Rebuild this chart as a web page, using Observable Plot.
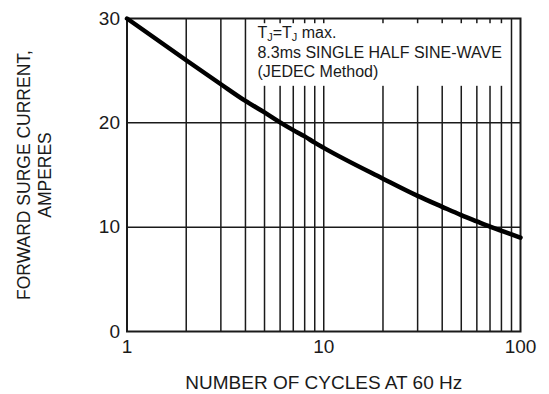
<!DOCTYPE html>
<html>
<head>
<meta charset="utf-8">
<script src="https://cdn.jsdelivr.net/npm/d3@7"></script>
<script src="https://cdn.jsdelivr.net/npm/@observablehq/plot@0.6"></script>
<style>
  html, body { margin: 0; padding: 0; background: #fff; }
  #chart svg { display: block; }
</style>
</head>
<body>
<div id="chart"></div>
<script>
// Data
const cycles  = [1, 2, 3, 4, 5, 6, 7, 8, 9, 10, 20, 30, 40, 50, 60, 70, 80, 90, 100];
const current = [30, 26.0, 23.7, 22.1, 21.0, 20.05, 19.3, 18.7, 18.1, 17.6, 14.65, 13.0, 11.95, 11.15, 10.55, 10.05, 9.65, 9.3, 9.0];

const xTicks = [1, 10, 100];
const yTicks = [0, 10, 20, 30];
const xGrid = [2, 3, 4, 5, 6, 7, 8, 9, 10, 20, 30, 40, 50, 60, 70, 80, 90];
const yGrid = [10, 20];

const xTitle = "NUMBER OF CYCLES AT 60 Hz";
const yTitle1 = "FORWARD SURGE CURRENT,";
const yTitle2 = "AMPERES";

const noteLines = ["TJ=TJ max.", "8.3ms SINGLE HALF SINE-WAVE", "(JEDEC Method)"];
const noteY = [28.6, 26.75, 24.9];
const noteX = 4.6;
const noteBox = [{x1: 4.75, x2: 85, y1: 23.5, y2: 29.5}];

const data = cycles.map((c, i) => ({c, a: current[i]}));
const notes = noteLines.map((t, i) => ({t, y: noteY[i]}));

const ink = "#1a1a1a";
const font = "'Liberation Sans', Arial, Helvetica, sans-serif";

const chart = Plot.plot({
  width: 549,
  height: 394,
  marginLeft: 126.5,
  marginRight: 29,
  marginTop: 18,
  marginBottom: 63,
  style: {fontFamily: font, fontSize: "19px", color: ink, background: "#fff"},
  x: {type: "log", domain: [1, 100], ticks: xTicks, tickFormat: d => String(d), tickSize: 0, tickPadding: 8, label: null},
  y: {domain: [0, 30], ticks: yTicks, tickFormat: d => String(d), tickSize: 0, tickPadding: 7, label: null},
  marks: [
    Plot.ruleX(xGrid, {stroke: ink, strokeWidth: 1.5}),
    Plot.ruleY(yGrid, {stroke: ink, strokeWidth: 1.5}),
    Plot.rect(noteBox, {x1: "x1", x2: "x2", y1: "y1", y2: "y2", fill: "white"}),
    Plot.frame({stroke: ink, strokeWidth: 2}),
    Plot.line(data, {x: "c", y: "a", stroke: "#000", strokeWidth: 4.5, curve: "monotone-x"}),
    Plot.text(notes, {x: () => noteX, y: "y", text: "t", textAnchor: "start", lineAnchor: "middle", fontSize: 16, fill: ink}),
    Plot.text([xTitle], {frameAnchor: "bottom", text: d => d, dy: 51, textAnchor: "middle", lineAnchor: "middle", fontSize: 19, fill: ink}),
    Plot.text([yTitle1], {frameAnchor: "left", text: d => d, rotate: -90, dx: -102.5, textAnchor: "middle", lineAnchor: "middle", fontSize: 17.5, fill: ink}),
    Plot.text([yTitle2], {frameAnchor: "left", text: d => d, rotate: -90, dx: -81.5, textAnchor: "middle", lineAnchor: "middle", fontSize: 17.5, fill: ink})
  ]
});

// subscripts J in the first note line
chart.querySelectorAll("text").forEach(t => {
  if (t.textContent === noteLines[0]) {
    const tspan = t.querySelector("tspan") || t;
    tspan.innerHTML = 'T<tspan font-size="11" dy="3">J</tspan><tspan dy="-3">=T</tspan><tspan font-size="11" dy="3">J</tspan><tspan dy="-3"> max.</tspan>';
  }
});

document.getElementById("chart").appendChild(chart);
</script>
</body>
</html>
